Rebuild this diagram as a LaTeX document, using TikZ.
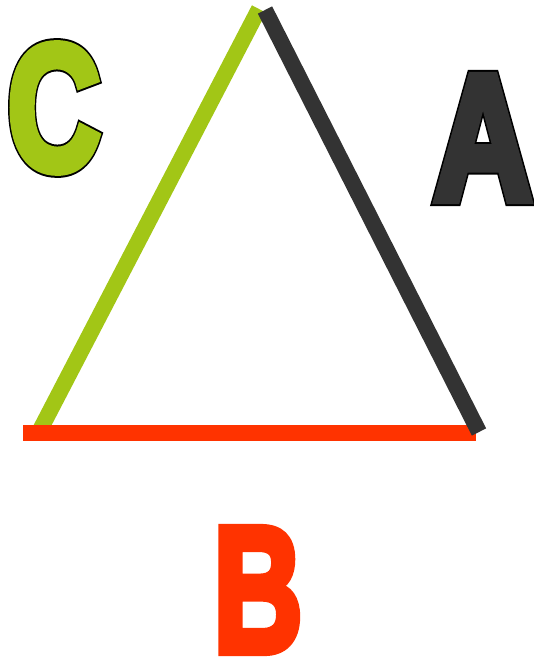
\documentclass[tikz,border=0pt]{standalone}
\usepackage{fontspec}
\setmainfont{Liberation Sans}
\definecolor{sidea}{RGB}{51,51,51}
\definecolor{sideb}{RGB}{255,51,0}
\definecolor{sidec}{RGB}{162,198,22}
% thicken a glyph by stroking it with its own colour
\newcommand\fatglyph[2]{\special{pdf:literal direct 2 Tr #1 w 0 j}#2\special{pdf:literal direct 0 Tr}}
\tikzset{
  side/.style   = {line width=16pt},
  letter/.style = {inner sep=0pt, xscale=0.72,
                   font=\fontsize{179}{179}\selectfont\bfseries},
  rim/.style    = {letter, text=black},
}

\begin{document}
\begin{tikzpicture}[x=1pt, y=-1pt]
  \useasboundingbox (0,0) rectangle (534,660);

  \coordinate (c1) at (38,434);
  \coordinate (c2) at (259,9);
  \coordinate (b1) at (23,433);
  \coordinate (b2) at (476,433);
  \coordinate (a1) at (265,10);
  \coordinate (a2) at (479,432);

  \draw[side, sidec] (c1) -- (c2);
  \draw[side, sideb] (b1) -- (b2);
  \draw[side, sidea] (a1) -- (a2);

  \node[rim] (crim) at (54,108) {\fatglyph{13}{C}};
  \node[letter, text=sidec] (clabel) at (54,108) {\fatglyph{9}{C}};
  \node[rim, xscale=1.06] (arim) at (483,138) {\fatglyph{13}{A}};
  \node[letter, xscale=1.06, text=sidea] (alabel) at (483,138) {\fatglyph{9}{A}};
  \node[letter, xscale=0.96, text=sideb] (blabel) at (258,590) {\fatglyph{9}{B}};
\end{tikzpicture}
\end{document}
